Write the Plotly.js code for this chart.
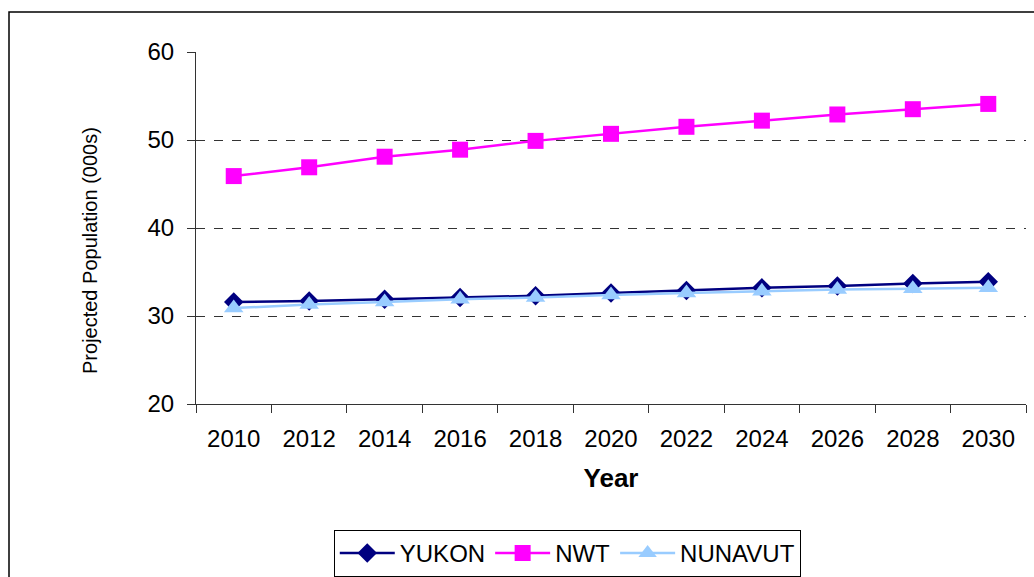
<!DOCTYPE html>
<html>
<head>
<meta charset="utf-8">
<script src="https://cdn.plot.ly/plotly-3.0.1.min.js"></script>
<style>
  html, body { margin: 0; padding: 0; background: #fff; }
  #plot { width: 1034px; height: 577px; }
</style>
</head>
<body>
<div id="plot"></div>
<script>
const years = ['2010', '2012', '2014', '2016', '2018', '2020', '2022', '2024', '2026', '2028', '2030'];
const yukon = [31.6, 31.7, 31.9, 32.1, 32.3, 32.6, 32.9, 33.2, 33.4, 33.7, 33.9];
const nwt = [45.9, 46.9, 48.1, 48.9, 49.9, 50.7, 51.5, 52.2, 52.9, 53.5, 54.1];
const nunavut = [30.9, 31.3, 31.6, 31.9, 32.1, 32.4, 32.6, 32.8, 33.0, 33.1, 33.2];
const yTicks = [20, 30, 40, 50, 60];
const dashedGrid = [30, 40, 50];

function makeTrace(name, y, color, symbol, size) {
  return {
    type: 'scatter',
    mode: 'lines+markers',
    name,
    x: years,
    y,
    line: { color, width: 2.5 },
    marker: { color, symbol, size, line: { width: 0 } },
  };
}

const data = [
  makeTrace('YUKON', yukon, '#000080', 'diamond', 15),
  makeTrace('NWT', nwt, '#FF00FF', 'square', 16),
  makeTrace('NUNAVUT', nunavut, '#99CCFF', 'triangle-up', 17),
];

const font = { family: 'Liberation Sans, Arial, sans-serif', color: '#000' };

const layout = {
  width: 1034,
  height: 577,
  paper_bgcolor: '#fff',
  plot_bgcolor: '#fff',
  font: Object.assign({ size: 24 }, font),
  margin: { l: 196, r: 8, t: 52, b: 173, autoexpand: false },
  showlegend: true,
  legend: {
    orientation: 'h',
    x: 0.166,
    xanchor: 'left',
    y: -0.358,
    yanchor: 'top',
    bordercolor: '#000',
    borderwidth: 1,
    bgcolor: '#fff',
    itemwidth: 55,
    font: Object.assign({ size: 24 }, font),
    tracegroupgap: 0,
  },
  xaxis: {
    type: 'category',
    range: [-0.5, 10.5],
    showline: true,
    linecolor: '#333',
    linewidth: 1,
    ticks: 'outside',
    tickson: 'boundaries',
    ticklen: 8,
    tickcolor: '#333',
    ticklabelstandoff: 13,
    showgrid: false,
    zeroline: false,
    tickfont: Object.assign({ size: 24 }, font),
    title: {
      text: '<b>Year</b>',
      font: Object.assign({ size: 26 }, font),
      standoff: 18,
    },
  },
  yaxis: {
    range: [20, 60],
    tickvals: yTicks,
    showline: true,
    linecolor: '#333',
    linewidth: 1,
    ticks: 'outside',
    ticklen: 8,
    tickcolor: '#333',
    ticklabelstandoff: 8,
    showgrid: true,
    gridcolor: '#eeeeee',
    griddash: 'dash',
    zeroline: false,
    tickfont: Object.assign({ size: 24 }, font),
  },
  yaxis2: {
    overlaying: 'y',
    range: [20, 60],
    tickvals: dashedGrid,
    showticklabels: false,
    ticks: '',
    showline: false,
    showgrid: true,
    gridcolor: '#333',
    gridwidth: 1,
    griddash: 'dash',
    zeroline: false,
  },
  annotations: [{
    text: 'Projected Population (000s)',
    xref: 'paper',
    yref: 'paper',
    x: -0.1277,
    y: 0.4347,
    xanchor: 'center',
    yanchor: 'middle',
    textangle: -90,
    showarrow: false,
    font: Object.assign({ size: 20 }, font),
  }],
  shapes: [{
    type: 'rect',
    xref: 'paper',
    yref: 'paper',
    x0: -0.2253,
    x1: 1.02,
    y0: -0.53,
    y1: 1.1136,
    line: { color: '#000', width: 1.5 },
    fillcolor: 'rgba(0,0,0,0)',
    layer: 'below',
  }],
};

// dummy trace to activate the grid-only overlay axis
data.push({
  type: 'scatter',
  x: [years[0]],
  y: [null],
  yaxis: 'y2',
  showlegend: false,
  hoverinfo: 'skip',
});

Plotly.newPlot('plot', data, layout, { staticPlot: true });
</script>
</body>
</html>
